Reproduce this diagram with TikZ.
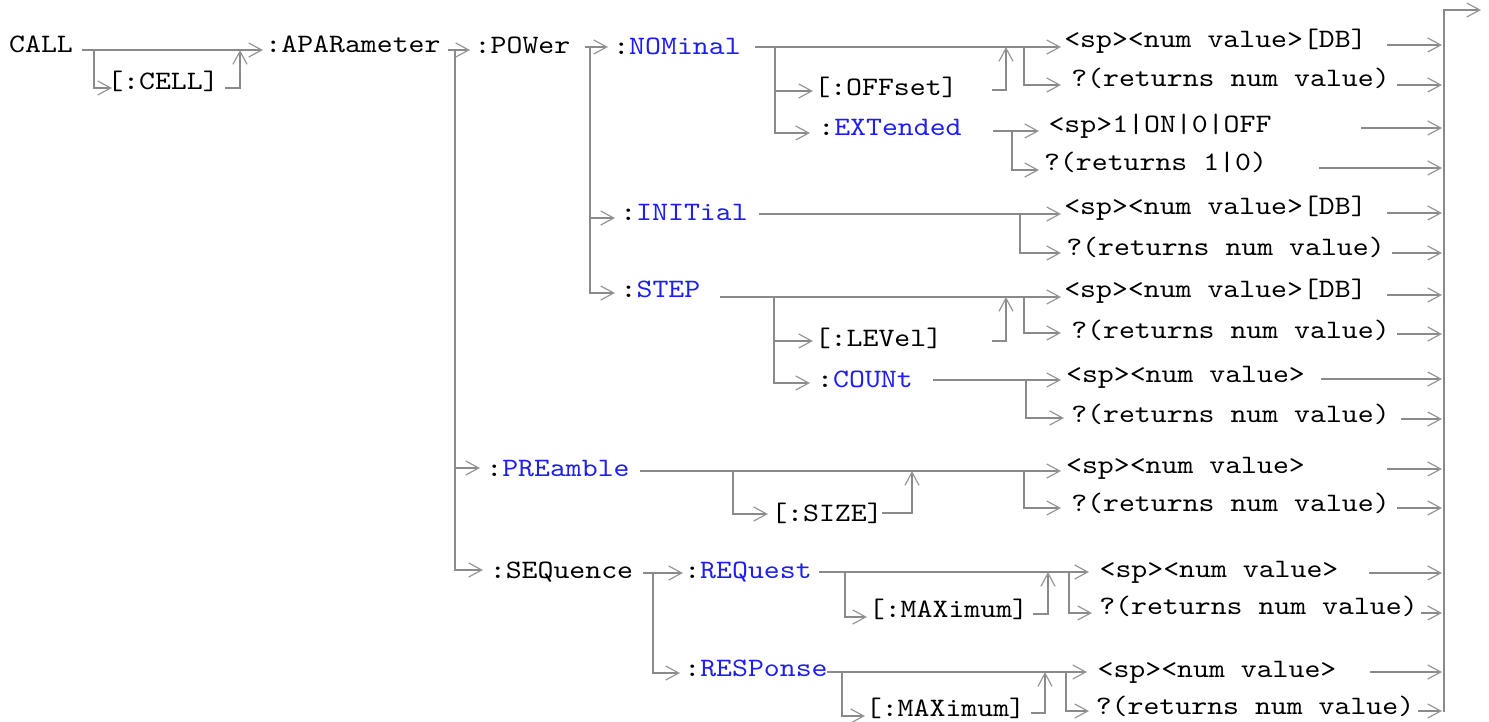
\documentclass[tikz,border=0pt]{standalone}
\usepackage{fontspec}
\setmonofont{lmmono10-regular.otf}[FakeStretch=1.14]
\usetikzlibrary{arrows.meta}
\definecolor{cmdblue}{RGB}{30,30,240}
\definecolor{lngray}{RGB}{138,138,138}
\definecolor{argray}{RGB}{150,150,150}
\tikzset{
 txt/.style={anchor=base, inner sep=0pt, font=\fontsize{26.6}{30}\selectfont\ttfamily},
 ln/.style={draw=lngray, line width=2pt},
 ar/.style={ln, -{Straight Barb[length=13pt,width=14pt,line width=1.2pt,color=argray]}},
}
\newcommand{\bl}[1]{\textcolor{cmdblue}{#1}}
\begin{document}
\begin{tikzpicture}[x=1pt,y=-1pt]
\useasboundingbox (0,0) rectangle (1489,722);

% ---------- left part ----------
\node[txt] (call) at (41,53) {CALL};
\node[txt] (cell) at (163,90) {[:CELL]};
\node[txt] (apar) at (353,53) {:APARameter};
\node[txt] (power) at (522.5,54) {:POWer};
\node[txt] (nom) at (677,55) {:\bl{NOMinal}};
\node[txt] (off) at (886,96) {[:OFFset]};
\node[txt] (ext) at (890,136) {:\bl{EXTended}};
\node[txt] (init) at (684,221) {:\bl{INITial}};
\node[txt] (stp) at (660.5,297) {:\bl{STEP}};
\node[txt] (lev) at (878.5,346) {[:LEVel]};
\node[txt] (cnt) at (865,387) {:\bl{COUNt}};
\node[txt] (pre) at (558,476) {:\bl{PREamble}};
\node[txt] (size) at (827,521) {[:SIZE]};
\node[txt] (seq) at (561.5,578) {:SEQuence};
\node[txt] (req) at (748,578) {:\bl{REQuest}};
\node[txt] (max1) at (948.5,617) {[:MAXimum]};
\node[txt] (resp) at (756,676) {:\bl{RESPonse}};
\node[txt] (max2) at (945.5,716) {[:MAXimum]};

% ---------- right part ----------
\node[txt] (v1) at (1215.5,48) {<sp><num value>[DB]};
\node[txt] (q1) at (1230.5,87) {?(returns num value)};
\node[txt] (v2) at (1160,133) {<sp>1|ON|0|OFF};
\node[txt] (q2) at (1155.5,171) {?(returns 1|0)};
\node[txt] (v3) at (1215.5,215) {<sp><num value>[DB]};
\node[txt] (q3) at (1225.5,256) {?(returns num value)};
\node[txt] (v4) at (1215.5,298) {<sp><num value>[DB]};
\node[txt] (q4) at (1230.5,338) {?(returns num value)};
\node[txt] (v5) at (1185.5,382) {<sp><num value>};
\node[txt] (q5) at (1230.5,422) {?(returns num value)};
\node[txt] (v6) at (1185.5,473) {<sp><num value>};
\node[txt] (q6) at (1230.5,511) {?(returns num value)};
\node[txt] (v7) at (1219,577) {<sp><num value>};
\node[txt] (q7) at (1258.5,614) {?(returns num value)};
\node[txt] (v8) at (1217,677) {<sp><num value>};
\node[txt] (q8) at (1255,714) {?(returns num value)};

% ---------- CALL ----------
\draw[ar] (82,50) -- (263,50);
\draw[ar] (94,50) |- (112,88);
\draw[ar] (225,88) -| (240,50);
% ---------- APARameter ----------
\draw[ar] (448,50) -- (470,50);
\draw[ar] (455,50) |- (483,570);
\draw[ar] (455,468) -- (480,468);
% ---------- POWer ----------
\draw[ar] (585,47) -- (608,47);
\draw[ar] (590,47) |- (615,293);
\draw[ar] (590,218) -- (615,218);
% ---------- NOMinal ----------
\draw[ar] (755,47) -- (1061,47);
\draw[ar] (775,47) |- (810,133);
\draw[ar] (775,91) -- (813,91);
\draw[ar] (992,90) -| (1006,47);
\draw[ar] (1024,47) |- (1061,85);
\draw[ar] (1387,45) -- (1442,45);
\draw[ar] (1397,85) -- (1442,85);
% ---------- EXTended ----------
\draw[ar] (993,131) -- (1039,131);
\draw[ar] (1012,131) |- (1039,170);
\draw[ar] (1361,128) -- (1442,128);
\draw[ar] (1319,168) -- (1442,168);
% ---------- INITial ----------
\draw[ar] (759,214) -- (1061,214);
\draw[ar] (1020,214) |- (1061,253);
\draw[ar] (1387,213) -- (1442,213);
\draw[ar] (1392,253) -- (1442,253);
% ---------- STEP ----------
\draw[ar] (720,297) -- (1061,297);
\draw[ar] (774,297) |- (810,383);
\draw[ar] (774,341) -- (813,341);
\draw[ar] (992,341) -| (1006,297);
\draw[ar] (1024,297) |- (1061,333);
\draw[ar] (1387,295) -- (1442,295);
\draw[ar] (1397,334) -- (1442,334);
% ---------- COUNt ----------
\draw[ar] (933,380) -- (1061,380);
\draw[ar] (1026,380) |- (1064,418);
\draw[ar] (1321,379) -- (1442,379);
\draw[ar] (1401,419) -- (1442,419);
% ---------- PREamble ----------
\draw[ar] (640,471) -- (1061,471);
\draw[ar] (733,471) |- (768,514);
\draw[ar] (882,513) -| (912,471);
\draw[ar] (1024,471) |- (1061,508);
\draw[ar] (1387,469) -- (1442,469);
\draw[ar] (1397,508) -- (1442,508);
% ---------- SEQuence ----------
\draw[ar] (643,573) -- (683,573);
\draw[ar] (653,573) |- (680,673);
% ---------- REQuest ----------
\draw[ar] (819,572) -- (1089,572);
\draw[ar] (845,572) |- (867,617);
\draw[ar] (1033,614) -| (1048,572);
\draw[ar] (1069,572) |- (1092,613);
\draw[ar] (1369,573) -- (1442,573);
\draw[ar] (1421,613) -- (1442,613);
% ---------- RESPonse ----------
\draw[ar] (827,672) -- (1087,672);
\draw[ar] (842,672) |- (865,716);
\draw[ar] (1031,713) -| (1045,672);
\draw[ar] (1066,672) |- (1089,711);
\draw[ar] (1370,672) -- (1442,672);
\draw[ar] (1418,711) -- (1442,711);
% ---------- exit bus ----------
\draw[ar] (1444,712) |- (1481,10);
\end{tikzpicture}
\end{document}
